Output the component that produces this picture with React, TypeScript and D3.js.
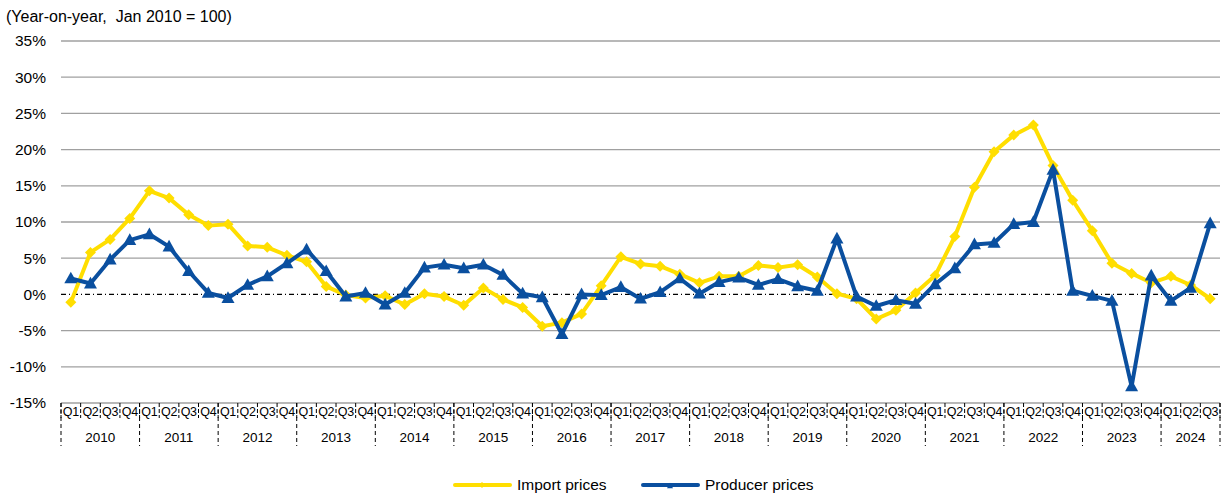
import React from "react";
import * as d3 from "d3";

const years = ["2010","2011","2012","2013","2014","2015","2016","2017","2018","2019","2020","2021","2022","2023","2024"];
const quarterNames = ["Q1","Q2","Q3","Q4"];
const categories: { year: string; q: string }[] = [];
years.forEach((y) => quarterNames.forEach((q) => {
  if (!(y === "2024" && q === "Q4")) categories.push({ year: y, q });
}));

const importPrices = [
  -1.1, 5.8, 7.6, 10.5,
  14.3, 13.3, 11.0, 9.5,
  9.7, 6.7, 6.5, 5.4,
  4.5, 1.1, -0.1, -0.5,
  -0.2, -1.4, 0.1, -0.3,
  -1.5, 0.9, -0.7, -1.8,
  -4.4, -3.9, -2.7, 1.2,
  5.2, 4.2, 3.9, 2.8,
  1.6, 2.5, 2.5, 4.0,
  3.7, 4.1, 2.4, 0.1,
  -0.6, -3.4, -2.2, 0.2,
  2.6, 8.0, 14.8, 19.7,
  22.0, 23.4, 17.8, 13.0,
  8.8, 4.3, 2.9, 1.6,
  2.5, 1.3, -0.6,
];

const producerPrices = [
  2.2, 1.5, 4.8, 7.5,
  8.3, 6.6, 3.2, 0.2,
  -0.5, 1.3, 2.5, 4.3,
  6.2, 3.2, -0.3, 0.2,
  -1.4, 0.2, 3.7, 4.1,
  3.6, 4.1, 2.7, 0.1,
  -0.4, -5.5, 0.0, -0.1,
  1.0, -0.6, 0.3, 2.2,
  0.1, 1.7, 2.3, 1.3,
  2.1, 1.1, 0.5, 7.7,
  -0.3, -1.6, -0.8, -1.3,
  1.4, 3.6, 6.9, 7.1,
  9.7, 10.0, 17.2, 0.5,
  -0.2, -0.9, -12.7, 2.6,
  -0.9, 0.9, 9.8,
];

const yTicks = [-15, -10, -5, 0, 5, 10, 15, 20, 25, 30, 35];

const YELLOW = "#FFDE00";
const BLUE = "#0A4F9F";
const FONT = "'Liberation Sans', Arial, sans-serif";

export default function App() {
  const W = 1224, H = 495;
  const left = 61, right = 1220, top = 41, bottom = 403;
  const x = d3.scaleBand<number>().domain(categories.map((_, i) => i)).range([left, right]).padding(0);
  const bw = x.bandwidth();
  const cx = (i: number) => (x(i) as number) + bw / 2;
  const y = d3.scaleLinear().domain([-15, 35]).range([bottom, top]);

  const line = d3.line<number>().x((_, i) => cx(i)).y((d) => y(d));

  const diamond = (px: number, py: number, r: number) =>
    `M${px},${py - r}L${px + r},${py}L${px},${py + r}L${px - r},${py}Z`;
  const tri = (px: number, py: number, r: number) =>
    `M${px},${py - r * 1.05}L${px + r},${py + r * 0.75}L${px - r},${py + r * 0.75}Z`;

  const yearGroups = years.map((yr) => {
    const idx = categories.map((c, i) => (c.year === yr ? i : -1)).filter((i) => i >= 0);
    const x0 = x(idx[0]) as number;
    const x1 = (x(idx[idx.length - 1]) as number) + bw;
    return { yr, x0, x1 };
  });

  return (
    <svg width={W} height={H} style={{ position: "absolute", left: 0, top: 0, background: "#fff" }} fontFamily={FONT}>
      <text x={6} y={22} fontSize={16} fill="#000" style={{ whiteSpace: "pre" }}>(Year-on-year,  Jan 2010 = 100)</text>

      {yTicks.map((t) => (
        <g key={t}>
          {t !== 0 && (
            <line x1={left} x2={right} y1={y(t)} y2={y(t)} stroke="#a0a0a0" strokeWidth={1.3} />
          )}
          <text x={46} y={y(t)} dy="0.35em" textAnchor="end" fontSize={15.5} fill="#000">{t}%</text>
        </g>
      ))}
      <line x1={left} x2={right} y1={y(0)} y2={y(0)} stroke="#000" strokeWidth={1.2} strokeDasharray="5,3,1,3" />

      {categories.map((c, i) => (
        <g key={i}>
          <line x1={x(i) as number} x2={x(i) as number} y1={bottom} y2={bottom + 15} stroke="#000" strokeWidth={1} strokeDasharray="4,2" />
          <text x={cx(i)} y={412} dy="0.35em" textAnchor="middle" fontSize={12.5} letterSpacing={-0.3} fill="#000">{c.q}</text>
        </g>
      ))}
      <line x1={right} x2={right} y1={bottom} y2={bottom + 15} stroke="#000" strokeWidth={1} strokeDasharray="4,2" />

      {yearGroups.map((g) => (
        <g key={g.yr}>
          <line x1={g.x0} x2={g.x0} y1={bottom} y2={446} stroke="#000" strokeWidth={1} strokeDasharray="4,3" />
          <text x={(g.x0 + g.x1) / 2} y={437} dy="0.35em" textAnchor="middle" fontSize={13.5} fill="#000">{g.yr}</text>
        </g>
      ))}
      <line x1={right} x2={right} y1={bottom} y2={446} stroke="#000" strokeWidth={1} strokeDasharray="4,3" />

      <path d={line(importPrices) || ""} fill="none" stroke={YELLOW} strokeWidth={4} strokeLinejoin="round" />
      {importPrices.map((v, i) => (
        <path key={"i" + i} d={diamond(cx(i), y(v), 5.5)} fill={YELLOW} />
      ))}
      <path d={line(producerPrices) || ""} fill="none" stroke={BLUE} strokeWidth={4} strokeLinejoin="round" />
      {producerPrices.map((v, i) => (
        <path key={"p" + i} d={tri(cx(i), y(v), 6.5)} fill={BLUE} />
      ))}

      <g>
        <line x1={455} x2={510} y1={485} y2={485} stroke={YELLOW} strokeWidth={4} strokeLinecap="round" />
        <path d={diamond(482, 485, 3)} fill={YELLOW} />
        <text x={517} y={485} dy="0.35em" fontSize={15.5} fill="#000">Import prices</text>
        <line x1={643} x2={698} y1={485} y2={485} stroke={BLUE} strokeWidth={4} strokeLinecap="round" />
        <path d={tri(670, 486, 3)} fill={BLUE} />
        <text x={705} y={485} dy="0.35em" fontSize={15.5} fill="#000">Producer prices</text>
      </g>
    </svg>
  );
}
